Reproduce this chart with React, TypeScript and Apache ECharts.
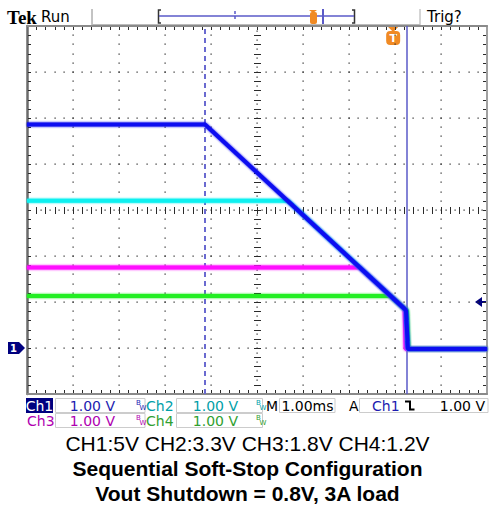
import React, { useEffect, useRef } from "react";
import * as echarts from "echarts";

// Time axis: 1.00 ms/div, 10 divisions. Voltage: 1.00 V/div, ground at 0 V.
const timeMin = 0;
const timeMax = 10;
const voltMin = -1;
const voltMax = 7;
const minorPerDiv = 5;

// Channel traces (time in ms, volts)
const ch1Time = [0, 3.87, 8.24, 8.28, 10];
const ch1Volt = [4.86, 4.86, 0.82, -0.02, -0.02];
const ch2Time = [0, 5.67, 8.24, 8.28, 10];
const ch2Volt = [3.2, 3.2, 0.82, -0.02, -0.02];
const ch3Time = [0, 7.23, 8.21, 8.23, 10];
const ch3Volt = [1.75, 1.75, 0.85, -0.02, -0.02];
const ch4Time = [0, 7.9, 8.26, 8.29, 10];
const ch4Volt = [1.13, 1.13, 0.81, -0.02, -0.02];

const cursorTime = 3.87;
const triggerTime = 8.26;
const triggerMarkTime = 7.96;
const triggerLevel = 1.0;

const captionLines = [
  "CH1:5V CH2:3.3V CH3:1.8V CH4:1.2V",
  "Sequential Soft-Stop Configuration",
  "Vout Shutdown = 0.8V, 3A load",
];

const NAVY = "#00007f";
const ORANGE = "#f08a24";
const UI = '"DejaVu Sans", Verdana, sans-serif';
const DOT = "#2a2a2a";

const zip = (t: number[], v: number[]) => t.map((x, i) => [x, v[i]]);

const borderAxis = (extra: any) => ({
  type: "value",
  axisLabel: { show: false },
  splitLine: { show: false },
  axisTick: { show: false },
  minorTick: { show: false },
  axisLine: { show: true, onZero: false, lineStyle: { color: "#8a8a8a", width: 2 } },
  ...extra,
});

const trace = (name: string, t: number[], v: number[], color: string, z: number, extra: any = {}) => ({
  type: "line",
  name,
  xAxisIndex: 0,
  yAxisIndex: 0,
  data: zip(t, v),
  symbol: "none",
  showSymbol: false,
  silent: true,
  lineStyle: { color, width: 4, shadowColor: color, shadowBlur: 2 },
  z,
  ...extra,
});

// Graticule drawn through the axes' scales
function renderGraticule(_params: any, api: any) {
  const children: any[] = [];
  const dot = (x: number, y: number) =>
    children.push({ type: "rect", shape: { x: Math.round(x) - 0.5, y: Math.round(y) - 0.5, width: 1.2, height: 1.2 }, style: { fill: DOT } });
  const seg = (x1: number, y1: number, x2: number, y2: number) =>
    children.push({ type: "line", shape: { x1, y1, x2, y2 }, style: { stroke: DOT, lineWidth: 1 } });
  const step = 1 / minorPerDiv;
  const tCenter = (timeMin + timeMax) / 2;
  const vCenter = (voltMin + voltMax) / 2;
  for (let t = timeMin + 1; t < timeMax; t++) {
    if (t === tCenter) continue;
    for (let v = voltMin + step; v < voltMax - 1e-6; v += step) {
      const [x, y] = api.coord([t, v]);
      dot(x, y);
    }
  }
  for (let v = voltMin + 1; v < voltMax; v++) {
    if (v === vCenter) continue;
    for (let t = timeMin + step; t < timeMax - 1e-6; t += step) {
      const [x, y] = api.coord([t, v]);
      dot(x, y);
    }
  }
  for (let v = voltMin + step; v < voltMax - 1e-6; v += step) {
    const [x, y] = api.coord([tCenter, v]);
    seg(Math.round(x) - 3, Math.round(y) + 0.5, Math.round(x) + 4, Math.round(y) + 0.5);
    dot(x, y - 4.6);
  }
  for (let t = timeMin + step; t < timeMax - 1e-6; t += step) {
    const [x, y] = api.coord([t, vCenter]);
    seg(Math.round(x) + 0.5, Math.round(y) - 3, Math.round(x) + 0.5, Math.round(y) + 4);
    dot(x + 4.6, y);
  }
  for (let t = timeMin + step; t < timeMax - 1e-6; t += step) {
    const [x, yTop] = api.coord([t, voltMax]);
    const [, yBot] = api.coord([t, voltMin]);
    const xx = Math.round(x) + 0.5;
    seg(xx, yTop + 1, xx, yTop + 4);
    seg(xx, yBot - 1, xx, yBot - 4);
  }
  for (let v = voltMin + step; v < voltMax - 1e-6; v += step) {
    const [xL, y] = api.coord([timeMin, v]);
    const [xR] = api.coord([timeMax, v]);
    const yy = Math.round(y) + 0.5;
    seg(xL + 1, yy, xL + 4, yy);
    seg(xR - 1, yy, xR - 4, yy);
  }
  return { type: "group", children };
}

const txt = (text: string, x: number, y: number, font: string, fill: string, align = "left") => ({
  type: "text",
  silent: true,
  style: { text, x, y, font, fill, textAlign: align, align, textVerticalAlign: "middle", verticalAlign: "middle" },
});
const box = (x: number, y: number, w: number, h: number) => ({
  type: "rect",
  silent: true,
  shape: { x, y, width: w, height: h },
  style: { fill: "none", stroke: "#cccccc", lineWidth: 1 },
});
const ln = (x1: number, y1: number, x2: number, y2: number, stroke: string, lineWidth = 1, lineDash?: number[]) => ({
  type: "line",
  silent: true,
  shape: { x1, y1, x2, y2 },
  style: { stroke, lineWidth, lineDash },
});
const bw = (x: number, y: number, color: string) => [
  txt("B", x, y - 3, `7px ${UI}`, color),
  txt("W", x + 3.5, y + 2, `7px ${UI}`, color),
];

function buildGraphics(groundY: number, levelY: number, markX: number, gridTop: number) {
  const r1 = 405.5;
  const r2 = 420.5;
  const f14 = `14px ${UI}`;
  return [
    txt("Tek", 7, 17, 'bold 19px "Liberation Serif", serif', "#000"),
    txt("Run", 41, 17, `15px ${UI}`, "#000"),
    ln(92, 9, 92, 25, "#888"),
    ln(420, 9, 420, 25, "#aaa"),
    ln(92, 24.5, 420, 24.5, "#bbb"),
    { type: "polyline", silent: true, shape: { points: [[161, 10], [158.5, 10], [158.5, 23], [161, 23]] }, style: { stroke: "#333", lineWidth: 1.5, fill: "none" } },
    { type: "polyline", silent: true, shape: { points: [[352, 10], [354.5, 10], [354.5, 23], [352, 23]] }, style: { stroke: "#333", lineWidth: 1.5, fill: "none" } },
    ln(159, 16, 354, 16, "#5a5ac8", 1.5),
    ln(235, 11, 235, 21, "#5a5ac8", 1.5, [3, 2]),
    { type: "polygon", silent: true, shape: { points: [[309, 10], [317, 10], [313, 13]] }, style: { fill: ORANGE } },
    { type: "rect", silent: true, shape: { x: 310, y: 12, width: 7, height: 12, r: 2 }, style: { fill: ORANGE } },
    ln(323, 9, 323, 24, "#5a5ac8", 2),
    txt("Trig?", 427, 17, `15px ${UI}`, "#000"),

    { type: "polygon", silent: true, shape: { points: [[markX - 6, gridTop], [markX + 6, gridTop], [markX, gridTop + 6]] }, style: { fill: ORANGE } },
    { type: "rect", silent: true, shape: { x: markX - 7, y: gridTop + 5, width: 14, height: 14, r: 4 }, style: { fill: ORANGE } },
    txt("T", markX, gridTop + 12.5, `bold 11px ${UI}`, "#fff", "center"),

    { type: "polygon", silent: true, shape: { points: [[8, groundY - 6], [19, groundY - 6], [25, groundY], [19, groundY + 6], [8, groundY + 6]] }, style: { fill: NAVY } },
    txt("1", 13.5, groundY + 0.5, `bold 10px ${UI}`, "#fff", "center"),

    { type: "polygon", silent: true, shape: { points: [[475, levelY], [482, levelY - 5], [482, levelY + 5]] }, style: { fill: NAVY } },
    ln(480, levelY, 486, levelY, NAVY, 2),

    { type: "rect", silent: true, shape: { x: 26, y: 398, width: 27, height: 15 }, style: { fill: NAVY } },
    txt("Ch1", 39.5, r1, f14, "#fff", "center"),
    box(55.5, 398.5, 89.5, 14),
    txt("1.00 V", 115, r1, f14, "#1c1cb0", "right"),
    ...bw(136, r1, "#1c1cb0"),
    txt("Ch2", 146, r1, f14, "#00a0a8"),
    box(176.5, 398.5, 86, 14),
    txt("1.00 V", 238, r1, f14, "#00a0a8", "right"),
    ...bw(256, r1, "#00a0a8"),
    txt("M", 266, r1, f14, "#000"),
    box(279.5, 398.5, 55.5, 14),
    txt("1.00ms", 307.5, r1, f14, "#000", "center"),
    txt("A", 349, r1, f14, "#000"),
    box(359.5, 398.5, 128.5, 14),
    txt("Ch1", 372, r1, f14, "#1c1cb0"),
    { type: "polyline", silent: true, shape: { points: [[405, 401.5], [410, 401.5], [410, 409.5], [414.5, 409.5]] }, style: { stroke: "#000", lineWidth: 2, fill: "none" } },
    txt("1.00 V", 485, r1, f14, "#000", "right"),

    txt("Ch3", 27, r2, f14, "#b000b0"),
    box(55.5, 413.5, 89.5, 14),
    txt("1.00 V", 115, r2, f14, "#b000b0", "right"),
    ...bw(136, r2, "#b000b0"),
    txt("Ch4", 146, r2, f14, "#30a030"),
    box(176.5, 413.5, 86, 14),
    txt("1.00 V", 238, r2, f14, "#30a030", "right"),
    ...bw(256, r2, "#30a030"),

    txt(captionLines[0], 247.5, 443.5, '21px "Liberation Sans", Arial, sans-serif', "#000", "center"),
    txt(captionLines[1], 247.5, 468, 'bold 21px "Liberation Sans", Arial, sans-serif', "#000", "center"),
    txt(captionLines[2], 247.5, 493, 'bold 21px "Liberation Sans", Arial, sans-serif', "#000", "center"),
  ];
}

const option: any = {
  animation: false,
  backgroundColor: "#ffffff",
  grid: { left: 27, top: 26, width: 460, height: 368, containLabel: false },
  xAxis: [
    borderAxis({ position: "bottom", min: timeMin, max: timeMax, interval: 1 }),
    borderAxis({ position: "top", min: timeMin, max: timeMax, interval: 1 }),
  ],
  yAxis: [
    borderAxis({ position: "left", min: voltMin, max: voltMax, interval: 1, axisLine: { show: true, onZero: false, lineStyle: { color: "#6a6a6a", width: 2.5 } } }),
    borderAxis({ position: "right", min: voltMin, max: voltMax, interval: 1, axisLine: { show: true, onZero: false, lineStyle: { color: "#a0a0a0", width: 2 } } }),
  ],
  series: [
    {
      type: "custom",
      name: "graticule",
      xAxisIndex: 0,
      yAxisIndex: 0,
      data: [[timeMin, voltMin]],
      renderItem: renderGraticule,
      silent: true,
      clip: false,
      z: 3,
    },
    trace("Ch4", ch4Time, ch4Volt, "#22ee22", 6, {
      markLine: {
        silent: true,
        symbol: ["none", "none"],
        label: { show: false },
        z: 5,
        data: [
          { xAxis: cursorTime, lineStyle: { color: "#6a6ad0", width: 2, type: [5, 4] } },
          { xAxis: triggerTime, lineStyle: { color: "#5a5ac8", width: 1.5, type: "solid" } },
        ],
      },
    }),
    trace("Ch3", ch3Time, ch3Volt, "#ff10ff", 7),
    trace("Ch2", ch2Time, ch2Volt, "#10f0f0", 8),
    trace("Ch1", ch1Time, ch1Volt, "#0a0af0", 9),
  ],
};

export default function App() {
  const ref = useRef<HTMLDivElement>(null);
  useEffect(() => {
    const chart = echarts.init(ref.current!, null, { renderer: "svg" });
    chart.setOption(option);
    const finder = { xAxisIndex: 0, yAxisIndex: 0 };
    const g = chart.convertToPixel(finder, [0, 0]) as number[];
    const l = chart.convertToPixel(finder, [0, triggerLevel]) as number[];
    const m = chart.convertToPixel(finder, [triggerMarkTime, voltMax]) as number[];
    chart.setOption({ graphic: { elements: buildGraphics(g[1], l[1], m[0], m[1]) } });
    return () => chart.dispose();
  }, []);
  return (
    <div
      ref={ref}
      style={{ position: "absolute", left: 0, top: 0, width: 493, height: 505, background: "#fff" }}
    />
  );
}
